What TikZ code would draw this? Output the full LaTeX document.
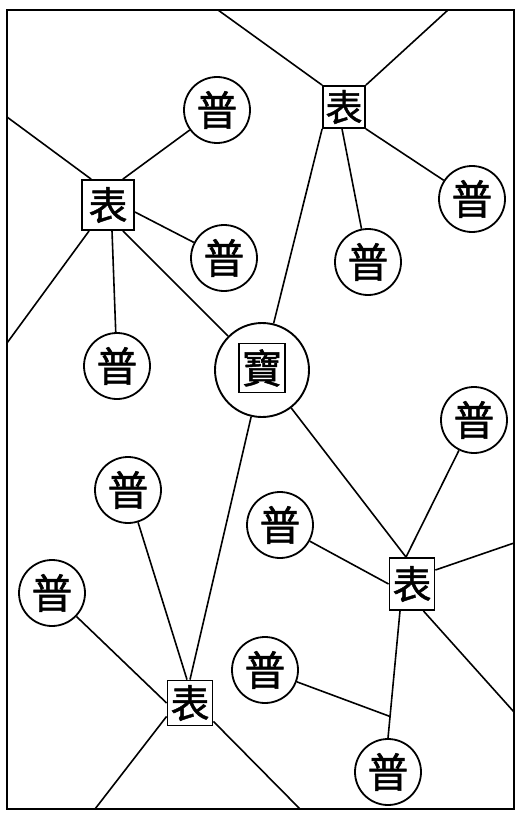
\documentclass[tikz,border=0pt]{standalone}
\usepackage{fontspec}
\newfontfamily\cjk[FakeBold=1.2]{Noto Sans CJK SC}
\usetikzlibrary{calc}
\begin{document}
\begin{tikzpicture}[x=1pt,y=-1pt,line width=1.5pt,
  pu/.style={circle,draw,line width=1.8pt,minimum size=66pt,inner sep=0pt,font=\cjk\fontsize{41}{41}\selectfont},
  biao/.style={rectangle,draw,line width=1.8pt,minimum width=45pt,minimum height=45pt,inner sep=0pt,font=\cjk\fontsize{39}{39}\selectfont},
  bao/.style={circle,draw,line width=1.9pt,minimum size=94pt,inner sep=0pt},
  link/.style={line width=1.6pt}]
\useasboundingbox (0,0) rectangle (517,813);
% frame
\draw[line width=1.7pt] (7,10) rectangle (514,809);
% frame points
\coordinate (f1) at (218,10);
\coordinate (f2) at (448,10);
\coordinate (f3) at (7,117);
\coordinate (f4) at (7,343);
\coordinate (f5) at (514,543);
\coordinate (f6) at (514,712);
\coordinate (f7) at (95,809);
\coordinate (f8) at (300,809);
% boxes
\node[biao,minimum width=42pt,minimum height=42pt,font=\cjk\fontsize{37}{37}\selectfont] (b1) at (344,107) {表};
\node[biao,minimum width=52pt,minimum height=50pt] (b2) at (108,205) {表};
\node[biao] (b3) at (190,703) {表};
\node[biao,minimum height=52pt] (b4) at (412,584) {表};
% center
\node[bao] (bigc) at (262,370) {};
\node[biao,minimum width=46pt,minimum height=49pt,font=\cjk\fontsize{40}{40}\selectfont] (bigb) at (262,368) {寶};
% circles
\node[pu] (p1) at (217,110) {普};
\node[pu] (p2) at (224,258) {普};
\node[pu] (p3) at (117,366) {普};
\node[pu] (p4) at (368,262) {普};
\node[pu] (p5) at (472,199) {普};
\node[pu] (p6) at (474,420) {普};
\node[pu] (p7) at (128,490) {普};
\node[pu] (p8) at (280,525) {普};
\node[pu] (p9) at (52,593) {普};
\node[pu] (p10) at (265,670) {普};
\node[pu] (p11) at (388,772) {普};
% helper coordinates
\coordinate (b4s) at ([xshift=-12pt]b4.south);
\coordinate (j) at ($(b4s)!0.83!(p11.north)$);
% links
\draw[link] (f1) -- (b1.north west);
\draw[link] (f2) -- (b1.north east);
\draw[link] (b1.south west) -- (bigc);
\draw[link] ([xshift=-2pt]b1.south) -- (p4);
\draw[link] (b1.south east) -- (p5);
\draw[link] (f3) -- ([xshift=10pt]b2.north west);
\draw[link] ([xshift=-12pt]b2.north east) -- (p1);
\draw[link] ([yshift=-7pt]b2.east) -- (p2);
\draw[link] ([xshift=4pt]b2.south) -- (p3);
\draw[link] ([xshift=-12pt]b2.south east) -- (bigc);
\draw[link] ([xshift=8pt]b2.south west) -- (f4);
\draw[link] (bigc) -- (b3.north);
\draw[link] (bigc) -- ([xshift=-6pt]b4.north);
\draw[link] (p6) -- ([xshift=-6pt]b4.north);
\draw[link] ([yshift=14pt]b4.east) -- (f5);
\draw[link] ([xshift=-12pt]b4.south east) -- (f6);
\draw[link] (b4s) -- (p11.north);
\draw[link] (p8) -- (b4.west);
\draw[link] (p10) -- (j);
\draw[link] (p7) -- ([xshift=-3pt]b3.north);
\draw[link] (p9) -- (b3.west);
\draw[link] ([yshift=10pt]b3.south west) -- (f7);
\draw[link] ([yshift=5pt]b3.south east) -- (f8);
\end{tikzpicture}
\end{document}
